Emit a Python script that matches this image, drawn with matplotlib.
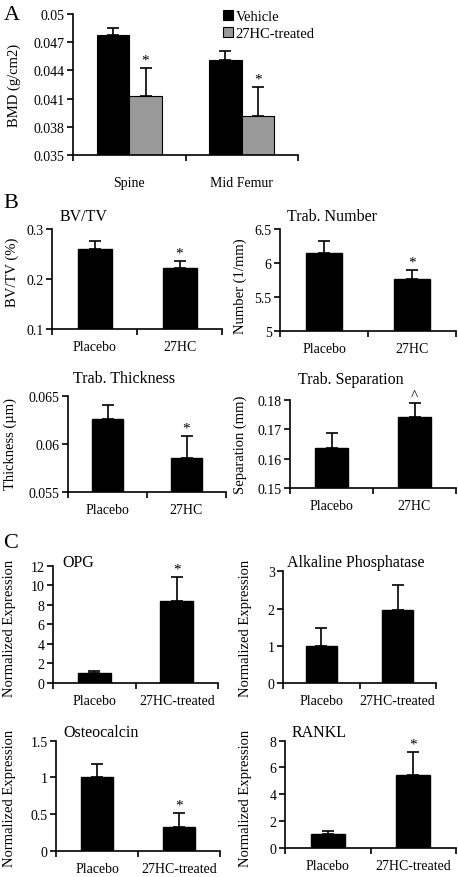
import numpy as np
import matplotlib
matplotlib.use("Agg")
import matplotlib.pyplot as plt

plt.rcParams['font.family'] = ['Liberation Serif', 'DejaVu Serif']
plt.rcParams['font.size'] = 10

# ---- data ----
bmd_sites = ["Spine", "Mid Femur"]
bmd_vehicle = [0.0478, 0.0451]
bmd_vehicle_err = [0.0007, 0.0010]
bmd_treated = [0.0413, 0.0391]
bmd_treated_err = [0.0030, 0.0031]

groups_b = ["Placebo", "27HC"]
bvtv = [0.260, 0.222]
bvtv_err = [0.017, 0.014]
trab_number = [6.15, 5.76]
trab_number_err = [0.18, 0.13]
trab_thick = [0.0626, 0.0586]
trab_thick_err = [0.0014, 0.0022]
trab_sep = [0.1635, 0.1743]
trab_sep_err = [0.0054, 0.0046]

groups_c = ["Placebo", "27HC-treated"]
opg = [1.0, 8.35]
opg_err = [0.25, 2.5]
alkp = [1.0, 1.97]
alkp_err = [0.48, 0.67]
osteocalcin = [1.0, 0.32]
osteocalcin_err = [0.18, 0.19]
rankl = [1.0, 5.45]
rankl_err = [0.23, 1.68]

W, H = 458, 878
fig = plt.figure(figsize=(W / 100, H / 100), dpi=100)


def px_axes(x0, x1, y0, y1):
    # axes from pixel box (top y0, bottom y1)
    return fig.add_axes([x0 / W, 1 - y1 / H, (x1 - x0) / W, (y1 - y0) / H])


def style_axes(ax, ncat, labels, yticks, ylabels, lpad):
    ax.spines['top'].set_visible(False)
    ax.spines['right'].set_visible(False)
    ax.spines['left'].set_linewidth(1.2)
    ax.spines['bottom'].set_linewidth(1.2)
    ax.set_xlim(-0.5, ncat - 0.5)
    ax.set_xticks(np.arange(ncat + 1) - 0.5)
    ax.set_xticklabels([])
    ax.set_xticks(np.arange(ncat), labels, minor=True)
    ax.tick_params(axis='x', which='major', direction='out', length=4, width=1.2)
    ax.tick_params(axis='x', which='minor', length=0, pad=lpad, labelsize=10)
    ax.set_yticks(yticks, ylabels)
    ax.set_ylim(yticks[0], yticks[-1])
    ax.tick_params(axis='y', direction='out', length=4, width=1.2, labelsize=10, pad=2)


def ptext(x, y, s, **kw):
    fig.text(x / W, 1 - y / H, s, **kw)


def simple_panel(box, vals, errs, labels, yticks, ylabels, title, tpos, ylab, ylpos, marks, lpad=8):
    ax = px_axes(*box)
    x = np.arange(len(vals))
    ax.bar(x, vals, width=0.4, color='black', edgecolor='black', zorder=2)
    ax.errorbar(x, vals, yerr=[np.zeros(len(vals)), errs], fmt='none', ecolor='black',
                elinewidth=1.2, capsize=4.5, capthick=1.2, zorder=3, clip_on=False)
    for xi, v, e, m in zip(x, vals, errs, marks):
        if m:
            ax.annotate(m, (xi, v + e), xytext=(0, 1), textcoords='offset points',
                        ha='center', va='bottom', fontsize=11, annotation_clip=False)
    style_axes(ax, len(vals), labels, yticks, ylabels, lpad)
    ptext(tpos[0], tpos[1], title, ha='left', va='center', fontsize=11.5)
    ptext(ylpos[0], ylpos[1], ylab, rotation=90, ha='center', va='center', fontsize=10.5)
    return ax


# ---- panel A ----
axA = px_axes(73, 298, 15, 156)
xa = np.arange(len(bmd_sites))
bw = 0.29
axA.bar(xa - bw / 2, bmd_vehicle, width=bw, color='black', edgecolor='black',
        linewidth=0.8, label='Vehicle', zorder=2)
axA.bar(xa + bw / 2, bmd_treated, width=bw, color='#999999', edgecolor='black',
        linewidth=0.8, label='27HC-treated', zorder=2)
axA.errorbar(xa - bw / 2, bmd_vehicle, yerr=[np.zeros(2), bmd_vehicle_err], fmt='none',
             ecolor='black', elinewidth=1.2, capsize=4.5, capthick=1.2, zorder=3)
axA.errorbar(xa + bw / 2, bmd_treated, yerr=[np.zeros(2), bmd_treated_err], fmt='none',
             ecolor='black', elinewidth=1.2, capsize=4.5, capthick=1.2, zorder=3)
for xi, v, e in zip(xa + bw / 2, bmd_treated, bmd_treated_err):
    axA.annotate('*', (xi, v + e), xytext=(0, 1), textcoords='offset points',
                 ha='center', va='bottom', fontsize=11)
style_axes(axA, 2, bmd_sites, [0.035, 0.038, 0.041, 0.044, 0.047, 0.05],
           ['0.035', '0.038', '0.041', '0.044', '0.047', '0.05'], 15)
axA.legend(loc='upper left', bbox_to_anchor=(0.665, 1.03), frameon=False,
           handlelength=0.7, handleheight=0.7, handletextpad=0.2, labelspacing=0.25,
           borderpad=0, borderaxespad=0, fontsize=10.5)
ptext(14, 85, 'BMD (g/cm2)', rotation=90, ha='center', va='center', fontsize=10.5)
ptext(4, 16, 'A', ha='left', va='center', fontsize=16)

# ---- panel B ----
ptext(3, 203, 'B', ha='left', va='center', fontsize=16)
simple_panel((52, 222, 230, 330), bvtv, bvtv_err, groups_b, [0.1, 0.2, 0.3],
             ['0.1', '0.2', '0.3'], 'BV/TV', (60, 217), 'BV/TV (%)', (12, 272), ['', '*'])
simple_panel((280, 456, 230, 331.7), trab_number, trab_number_err, groups_b,
             [5, 5.5, 6, 6.5], ['5', '5.5', '6', '6.5'], 'Trab. Number', (287, 217),
             'Number (1/mm)', (240, 286), ['', '*'])
simple_panel((68, 226, 396.7, 493.3), trab_thick, trab_thick_err, groups_b,
             [0.055, 0.06, 0.065], ['0.055', '0.06', '0.065'], 'Trab. Thickness', (73, 379),
             'Thickness (µm)', (10, 444), ['', '*'])
simple_panel((290, 456, 401, 489), trab_sep, trab_sep_err, groups_b,
             [0.15, 0.16, 0.17, 0.18], ['0.15', '0.16', '0.17', '0.18'], 'Trab. Separation',
             (298, 380), 'Separation (mm)', (240, 445), ['', '^'])

# ---- panel C ----
ptext(3, 543, 'C', ha='left', va='center', fontsize=16)
simple_panel((53, 218, 566.7, 684), opg, opg_err, groups_c, [0, 2, 4, 6, 8, 10, 12],
             ['0', '2', '4', '6', '8', '10', '12'], 'OPG', (62, 563),
             'Normalized Expression', (10, 628), ['', '*'])
simple_panel((283, 436, 572.3, 684), alkp, alkp_err, groups_c, [0, 1, 2, 3],
             ['0', '1', '2', '3'], 'Alkaline Phosphatase', (287, 563),
             'Normalized Expression', (245, 628), ['', ''])
simple_panel((56, 220, 741.7, 851.7), osteocalcin, osteocalcin_err, groups_c,
             [0, 0.5, 1, 1.5], ['0', '0.5', '1', '1.5'], 'Osteocalcin', (63, 733),
             'Normalized Expression', (10, 798), ['', '*'])
simple_panel((285, 456, 741.7, 848.7), rankl, rankl_err, groups_c, [0, 2, 4, 6, 8],
             ['0', '2', '4', '6', '8'], 'RANKL', (292, 733),
             'Normalized Expression', (245, 798), ['', '*'])

fig.savefig('out.png', dpi=100)
